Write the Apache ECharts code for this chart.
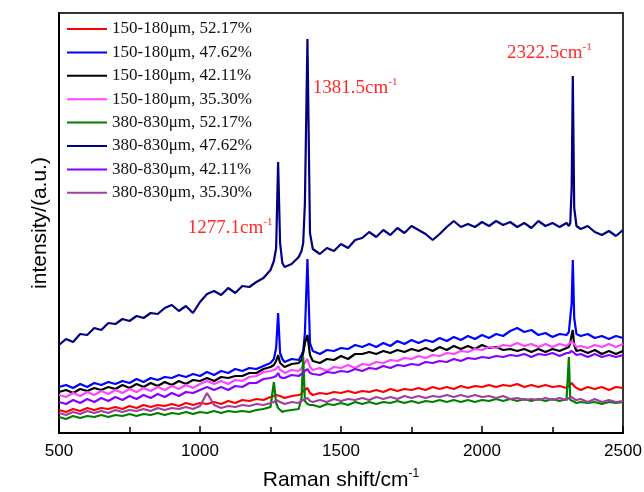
<!DOCTYPE html>
<html>
<head>
<meta charset="utf-8">
<script src="https://cdn.jsdelivr.net/npm/echarts@6/dist/echarts.min.js"></script>
<style>
  html, body { margin: 0; padding: 0; background: #fff; }
  #main { width: 644px; height: 492px; }
</style>
</head>
<body>
<div id="main"></div>
<script>
// Raman shift (cm-1), shared by all spectra
const shift = [500,525,550,575,600,625,650,675,700,725,750,775,800,825,850,875,900,925,950,975,
  1000,1025,1050,1075,1100,1125,1150,1175,1200,1225,1250,1262,1270,1277,1284,1292,1300,1325,1350,
  1360,1366,1372,1381,1390,1400,1425,1450,1475,1500,1525,1550,1575,1600,1625,1650,1675,1700,1725,
  1750,1775,1800,1825,1850,1875,1900,1925,1950,1975,2000,2025,2050,2075,2100,2125,2150,2175,2200,
  2225,2250,2275,2300,2308,2313,2318,2322,2327,2335,2350,2375,2400,2425,2450,2475,2500];

// intensities (a.u.)
const s150_5217 = [23,21,24,22,25,23,25,24,26,24,27,25,28,26,28,27,29,27,30,28,
  30,29,31,29,32,30,33,32,34,33,36,37,38,40,37,36,35,37,38,
  39,42,44,45,40,38,40,39,41,40,42,40,42,41,43,41,44,42,44,
  43,45,43,46,44,46,44,47,45,47,46,48,46,48,47,49,46,48,46,
  48,46,47,45,47,48,50,51,47,45,43,46,44,46,43,46,45];
const s150_4762 = [46,48,45,49,46,50,48,51,49,52,50,54,51,55,53,56,55,58,56,59,
  57,61,58,62,60,64,62,65,64,67,70,74,85,120,80,74,71,74,73,
  78,82,100,174,90,82,79,83,82,85,84,88,86,89,86,90,87,92,89,
  93,90,93,91,95,92,96,93,97,94,98,95,99,97,102,105,101,103,98,
  100,96,99,98,101,102,130,173,115,99,97,99,95,97,94,97,95];
const s150_4211 = [41,43,40,44,42,45,43,46,44,48,45,49,46,50,47,51,48,52,49,53,
  52,55,52,56,55,57,57,60,60,64,66,68,72,78,70,68,66,69,70,
  73,80,90,98,78,72,70,74,73,77,74,79,79,81,79,82,80,83,81,
  84,82,85,82,86,83,87,84,87,84,88,85,86,83,84,82,84,81,84,
  81,84,82,85,86,90,98,103,88,82,83,80,83,79,82,79,82];
const s150_3530 = [38,36,40,37,41,38,42,39,43,40,44,41,45,42,46,43,47,44,48,45,
  49,52,49,52,49,53,52,56,57,61,62,63,64,67,63,62,60,63,62,
  65,68,70,74,66,63,65,62,66,65,68,65,69,68,71,70,73,72,75,
  74,77,75,78,77,80,79,82,81,84,83,86,85,88,87,90,87,89,86,
  89,86,89,87,89,89,92,94,89,86,87,85,88,86,89,86,89];
const s380_5217 = [16,14,17,15,17,16,18,16,18,17,19,17,19,18,20,18,20,19,21,19,
  21,20,22,20,22,21,22,21,23,24,26,51,30,25,23,21,22,23,24,
  35,76,32,29,28,28,26,29,28,30,28,31,29,31,29,31,30,32,30,
  32,30,32,31,33,31,33,31,33,31,33,32,34,32,34,32,34,32,34,
  32,34,32,34,76,33,31,32,31,30,31,30,31,29,31,30,31];
const s380_4762 = [88,94,91,99,98,105,103,110,109,114,112,117,115,120,119,125,128,122,127,120,
  131,139,142,138,145,140,147,146,151,155,163,172,185,271,190,170,166,169,176,
  182,190,230,394,200,184,179,185,182,189,185,193,195,201,196,203,198,205,200,
  207,203,199,193,199,206,212,206,209,206,211,207,212,208,211,206,210,205,212,
  207,210,206,210,207,210,245,357,225,207,204,207,201,198,202,197,203];
const s380_4211 = [31,29,33,30,34,31,35,32,36,33,37,34,38,35,39,36,40,37,41,40,
  43,46,43,46,43,47,46,50,50,54,55,56,57,60,56,55,55,58,57,
  59,60,62,64,60,59,58,61,60,62,61,64,62,65,64,67,65,68,67,
  69,68,71,70,72,71,74,72,75,74,76,75,77,76,78,77,79,76,79,
  78,80,77,80,80,81,82,83,80,78,79,76,79,76,78,76,78];
const s380_3530 = [20,18,21,19,22,20,22,20,23,21,23,22,24,22,25,23,25,24,26,24,
  27,40,28,25,27,26,28,27,29,28,30,31,33,35,31,30,29,31,30,
  32,33,34,35,32,31,33,31,34,32,34,33,35,33,36,34,36,34,37,
  35,37,35,37,36,38,36,38,36,38,36,37,35,37,34,35,33,34,33,
  35,33,35,33,35,34,36,36,34,33,34,31,34,31,33,31,32];

const names = ['150-180μm, 52.17%','150-180μm, 47.62%','150-180μm, 42.11%','150-180μm, 35.30%',
  '380-830μm, 52.17%','380-830μm, 47.62%','380-830μm, 42.11%','380-830μm, 35.30%'];
const values = [s150_5217, s150_4762, s150_4211, s150_3530, s380_5217, s380_4762, s380_4211, s380_3530];
const colors = ['#ff0000','#0000ff','#000000','#ff44ff','#008000','#000080','#8800ff','#a040a0'];

// peak labels: [text, x, y] (text anchored at its left edge)
const peakNotes = [
  ['1277.1cm', 957, 205],
  ['1381.5cm', 1400, 345],
  ['2322.5cm', 2089, 380]
];

const chart = echarts.init(document.getElementById('main'));

const series = names.map((n, i) => ({
  name: n,
  type: 'line',
  symbol: 'none',
  data: shift.map((x, k) => [x, values[i][k]]),
  lineStyle: { width: 2.2, color: colors[i] },
  itemStyle: { color: colors[i] },
  z: 2
}));

series[5].markPoint = {
  symbol: 'circle',
  symbolSize: 0,
  silent: true,
  label: {
    show: true,
    position: 'right',
    distance: 0,
    formatter: p => '{a|' + p.name + '}{s|-1}',
    rich: {
      a: { fontFamily: 'Liberation Serif', fontSize: 19, color: '#ff2a2a', lineHeight: 22 },
      s: { fontFamily: 'Liberation Serif', fontSize: 11, color: '#ff2a2a', lineHeight: 12, verticalAlign: 'top' }
    }
  },
  data: peakNotes.map(p => ({ name: p[0], coord: [p[1], p[2]] }))
};

chart.setOption({
  animation: false,
  backgroundColor: '#fff',
  grid: {
    left: 59, right: 21, top: 13, bottom: 59,
    outerBoundsMode: 'none',
    show: true, borderColor: '#333', borderWidth: 2
  },
  legend: {
    orient: 'vertical',
    left: 62,
    top: 15,
    icon: 'rect',
    itemWidth: 40,
    itemHeight: 2,
    itemGap: 5.4,
    textStyle: { fontFamily: 'Liberation Serif', fontSize: 17, color: '#111', lineHeight: 18 },
    data: names
  },
  xAxis: {
    type: 'value',
    min: 500,
    max: 2500,
    interval: 500,
    name: '{a|Raman shift/cm}{s|-1}',
    nameLocation: 'middle',
    nameGap: 35,
    nameTextStyle: {
      rich: {
        a: { fontFamily: 'Liberation Sans', fontSize: 21, color: '#000', lineHeight: 24 },
        s: { fontFamily: 'Liberation Sans', fontSize: 12, color: '#000', lineHeight: 13, verticalAlign: 'top' }
      }
    },
    axisLine: { lineStyle: { color: '#000', width: 2 } },
    axisTick: { inside: true, length: 7, lineStyle: { color: '#000', width: 1.5 } },
    minorTick: { show: true, splitNumber: 2, length: 6, lineStyle: { color: '#000', width: 1.5 } },
    axisLabel: { fontFamily: 'Liberation Sans', fontSize: 17, color: '#000', margin: 10, formatter: v => String(v) },
    splitLine: { show: false }
  },
  yAxis: {
    type: 'value',
    min: 0,
    max: 420,
    name: 'intensity/(a.u.)',
    nameLocation: 'middle',
    nameGap: 8,
    nameTextStyle: { fontFamily: 'Liberation Sans', fontSize: 21, color: '#000' },
    axisLine: { show: true, lineStyle: { color: '#000', width: 2 } },
    axisTick: { show: false },
    axisLabel: { show: false },
    splitLine: { show: false }
  },
  series: series
});
</script>
</body>
</html>
